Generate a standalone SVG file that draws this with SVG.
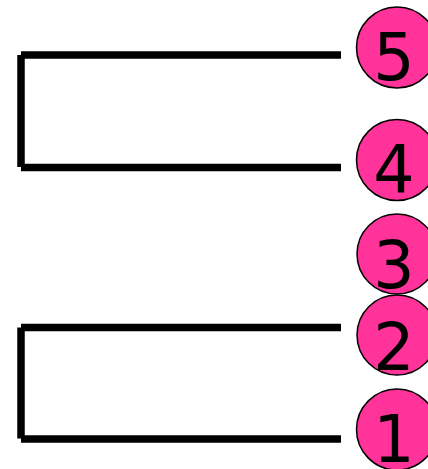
<svg xmlns="http://www.w3.org/2000/svg" width="428" height="469" viewBox="0 0 428 469">
<style>
.bar{stroke:#000;stroke-width:7.5;fill:none;stroke-linecap:butt}
.node circle{fill:#FF3399;stroke:#000;stroke-width:1.5}
.node text{font-family:"DejaVu Sans",Verdana,sans-serif;font-size:65px;fill:#000;text-anchor:middle}
</style>
<rect width="428" height="469" fill="#fff"/>
<g id="connectors">
<line class="bar" x1="21" y1="55" x2="341" y2="55"/>
<line class="bar" x1="21" y1="167.5" x2="341" y2="167.5"/>
<line class="bar" x1="21" y1="55" x2="21" y2="167"/>
<line class="bar" x1="21" y1="327.5" x2="341" y2="327.5"/>
<line class="bar" x1="21" y1="439" x2="341" y2="439"/>
<line class="bar" x1="21" y1="327.5" x2="21" y2="438.5"/>
</g>
<g id="n5" class="node"><circle cx="397" cy="47.5" r="40.5"/><text x="394" y="80">5</text></g>
<g id="n4" class="node"><circle cx="397" cy="160" r="40.5"/><text x="394" y="192">4</text></g>
<g id="n3" class="node"><circle cx="397" cy="254" r="40"/><text x="394" y="288">3</text></g>
<g id="n2" class="node"><circle cx="397" cy="335" r="40"/><text x="394" y="370">2</text></g>
<g id="n1" class="node"><circle cx="397" cy="429.5" r="40.5"/><text x="394" y="462">1</text></g>
</svg>
